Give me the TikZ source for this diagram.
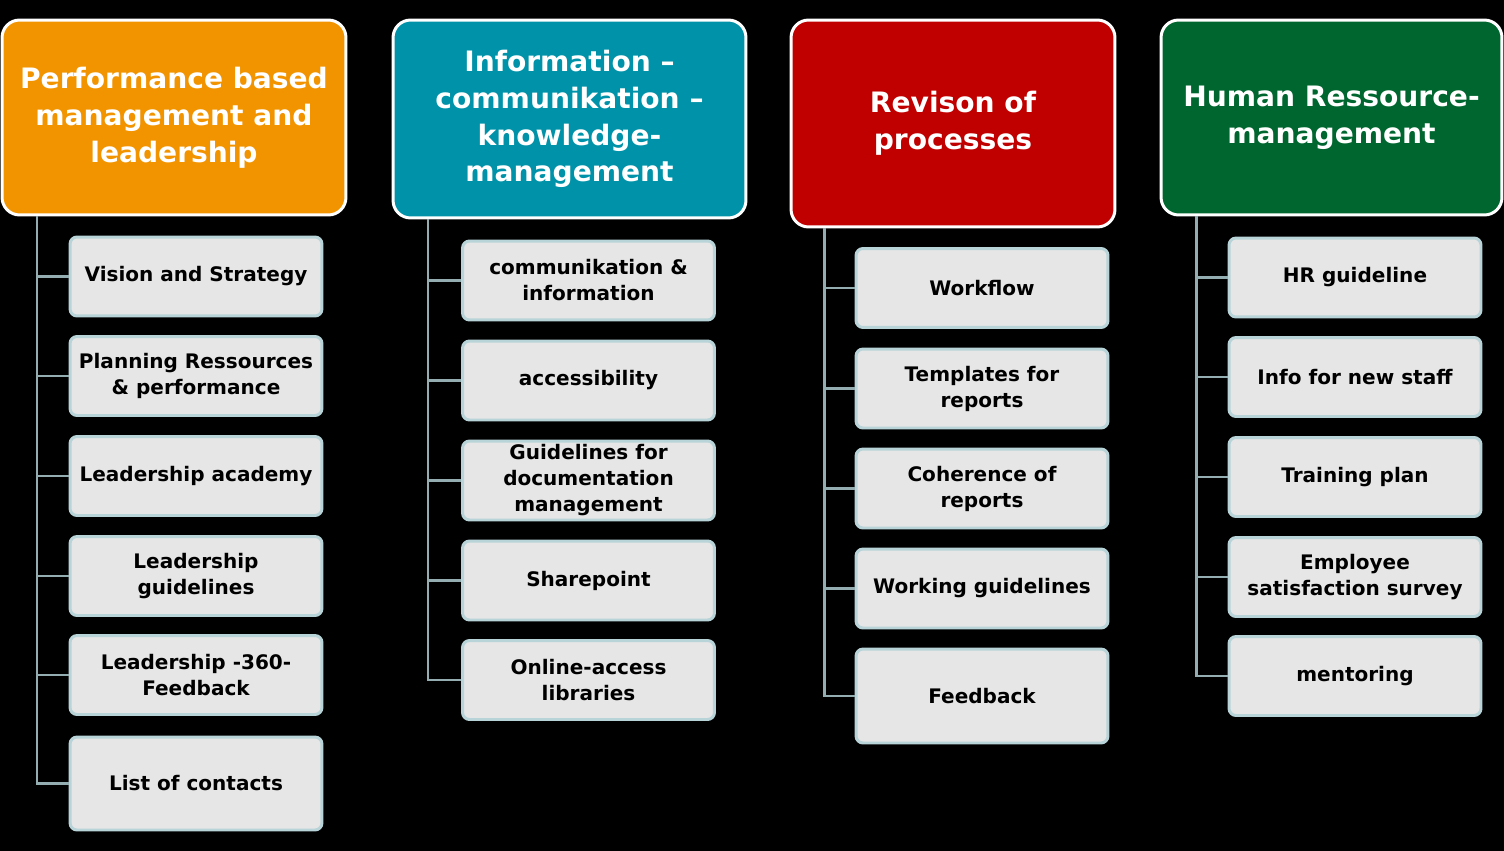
\documentclass[tikz,border=0pt]{standalone}
\usepackage{fontspec}
\setmainfont{DejaVu Sans}
\usetikzlibrary{positioning}
\definecolor{corange}{HTML}{F29400}
\definecolor{cteal}{HTML}{0092A8}
\definecolor{cred}{HTML}{C00000}
\definecolor{cgreen}{HTML}{00662F}
\definecolor{cbox}{HTML}{E6E6E6}
\definecolor{cedge}{HTML}{B8D4D8}
\definecolor{clink}{HTML}{93ADB1}
\tikzset{
  every picture/.style={font=\bfseries, line width=1.7pt},
  head/.style={draw=white, fill=#1, rounded corners=10pt, align=center, text=white, inner sep=4pt,
    font=\fontsize{16}{21}\selectfont\bfseries},
  head/.default=corange,
  item/.style={draw=cedge, fill=cbox, rounded corners=4pt, align=center, text=black, inner sep=2pt,
    minimum width=5.04cm, minimum height=1.58cm, font=\fontsize{11.4}{14.8}\selectfont\bfseries},
  link/.style={draw=clink, line width=1.7pt},
}
\begin{document}
\begin{tikzpicture}[x=0.02cm, y=-0.02cm]
  \fill[black] (0,0) rectangle (1504,851);
  \useasboundingbox (0,0) rectangle (1504,851);
  % headers
  \node[head=corange, minimum width=6.88cm, minimum height=3.9cm] (h1) at (174,117.5) {Performance based\\management and\\leadership};
  \node[head=cteal, minimum width=7.06cm, minimum height=3.96cm] (h2) at (569.5,119) {Information --\\communikation --\\knowledge-\\management};
  \node[head=cred, minimum width=6.48cm, minimum height=4.14cm] (h3) at (953,123.5) {Revison of\\processes};
  \node[head=cgreen, minimum width=6.82cm, minimum height=3.9cm] (h4) at (1331.5,117.5) {Human Ressource-\\management};
  % first column
  \node[item] (c11) at (196,276.5) {Vision and Strategy};
  \node[item] (c12) at (196,376) {Planning Ressources\\\& performance};
  \node[item] (c13) at (196,476) {Leadership academy};
  \node[item] (c14) at (196,576) {Leadership\\guidelines};
  \node[item] (c15) at (196,675) {Leadership -360-\\Feedback};
  \node[item, minimum height=1.86cm] (c16) at (196,783.5) {List of contacts};
  % second column
  \node[item] (c21) at (588.5,280.5) {communikation \&\\information};
  \node[item] (c22) at (588.5,380.5) {accessibility};
  \node[item] (c23) at (588.5,480.5) {Guidelines for\\documentation\\management};
  \node[item] (c24) at (588.5,580.5) {Sharepoint};
  \node[item] (c25) at (588.5,680) {Online-access\\libraries};
  % third column
  \node[item] (c31) at (982,288) {Workflow};
  \node[item] (c32) at (982,388.5) {Templates for\\reports};
  \node[item] (c33) at (982,488.5) {Coherence of\\reports};
  \node[item] (c34) at (982,588.5) {Working guidelines};
  \node[item, minimum height=1.88cm] (c35) at (982,696) {Feedback};
  % fourth column
  \node[item] (c41) at (1355,277.5) {HR guideline};
  \node[item] (c42) at (1355,377) {Info for new staff};
  \node[item] (c43) at (1355,477) {Training plan};
  \node[item] (c44) at (1355,577) {Employee\\satisfaction survey};
  \node[item] (c45) at (1355,676) {mentoring};
  % connectors
  \coordinate (s1) at (h1.south -| 37,0);
  \coordinate (s2) at (h2.south -| 428,0);
  \coordinate (s3) at (h3.south -| 824,0);
  \coordinate (s4) at (h4.south -| 1196,0);
  \draw[link] (s1) |- (c16.west);
  \draw[link] (s1 |- c11.west) -- (c11.west);
  \draw[link] (s1 |- c12.west) -- (c12.west);
  \draw[link] (s1 |- c13.west) -- (c13.west);
  \draw[link] (s1 |- c14.west) -- (c14.west);
  \draw[link] (s1 |- c15.west) -- (c15.west);
  \draw[link] (s2) |- (c25.west);
  \draw[link] (s2 |- c21.west) -- (c21.west);
  \draw[link] (s2 |- c22.west) -- (c22.west);
  \draw[link] (s2 |- c23.west) -- (c23.west);
  \draw[link] (s2 |- c24.west) -- (c24.west);
  \draw[link] (s3) |- (c35.west);
  \draw[link] (s3 |- c31.west) -- (c31.west);
  \draw[link] (s3 |- c32.west) -- (c32.west);
  \draw[link] (s3 |- c33.west) -- (c33.west);
  \draw[link] (s3 |- c34.west) -- (c34.west);
  \draw[link] (s4) |- (c45.west);
  \draw[link] (s4 |- c41.west) -- (c41.west);
  \draw[link] (s4 |- c42.west) -- (c42.west);
  \draw[link] (s4 |- c43.west) -- (c43.west);
  \draw[link] (s4 |- c44.west) -- (c44.west);
\end{tikzpicture}
\end{document}
